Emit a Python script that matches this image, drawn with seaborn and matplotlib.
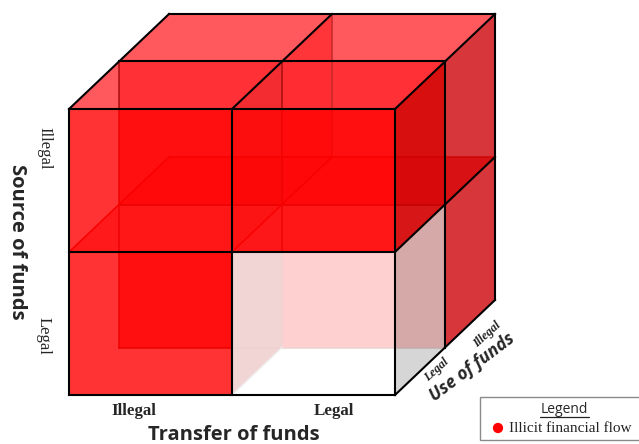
import matplotlib
matplotlib.use("Agg")
import matplotlib.pyplot as plt
from matplotlib.patches import Rectangle, FancyBboxPatch
import pandas as pd
import seaborn as sns

# Categories of the three cube axes
transfer_levels = ["Illegal", "Legal"]
source_levels = ["Legal", "Illegal"]
use_levels = ["Legal", "Illegal"]
axis_titles = ["Transfer of funds", "Source of funds", "Use of funds"]
legend_title = "Legend"
legend_items = ["Illicit financial flow"]

# Faces: axis held constant, its value, and the two index ranges of the other axes
# (x = transfer, y = source, z = use); back-to-front order
faces_back = [
    ("y", 2, (0, 2), (1, 2), (255, 0, 8), .65),      # lid, back half
    ("y", 2, (0, 2), (0, 1), (255, 0, 8), .65),      # lid, front half
    ("y", 1, (0, 2), (1, 2), (255, 40, 45), .88),    # middle floor, back half
    ("x", 1, (1, 2), (1, 2), (255, 0, 5), .40),      # partition, back upper
    ("z", 1, (0, 1), (0, 1), (255, 0, 0), .70),      # middle plane, lower left
    ("z", 1, (1, 2), (0, 1), (255, 0, 0), 1.0),      # middle plane, lower right
    ("x", 1, (0, 1), (0, 1), (180, 30, 30), 1.0),    # partition, front lower
    ("z", 1, (0, 2), (1, 2), (255, 43, 48), .85),    # middle plane, upper
    ("y", 1, (0, 2), (0, 1), (255, 120, 125), .95),  # middle floor, front half
    ("x", 1, (0, 1), (1, 2), (170, 20, 20), .14),    # partition, front upper
]
faint_lines = [
    ((0, 2, 1), (0, 0, 1), (165, 15, 15)),
    ((1, 2, 1), (1, 0, 1), (165, 15, 15)),
    ((1, 2, 2), (1, 1, 2), (200, 40, 40)),
    ((0, 1, 1), (2, 1, 1), (150, 0, 0)),
    ((0, 0, 1), (2, 0, 1), (160, 10, 10)),
    ((0, 1, 2), (2, 1, 2), (225, 0, 0)),
    ((0, 1, 0), (0, 1, 2), (225, 0, 0)),
    ((1, 1, 0), (1, 1, 2), (225, 0, 0)),
    ((1, 0, 0), (1, 0, 1), (170, 160, 160)),
]
faces_front = [
    ("x", 2, (1, 2), (0, 2), (205, 5, 8), .80),      # right wall, back
    ("x", 2, (0, 1), (1, 2), (205, 0, 0), .80),      # right wall, front upper
    ("x", 2, (0, 1), (0, 1), (206, 206, 206), .824), # right wall, front lower
    ("z", 0, (0, 1), (1, 2), (255, 0, 0), .80),
    ("z", 0, (1, 2), (1, 2), (255, 0, 0), .80),
    ("z", 0, (0, 1), (0, 1), (255, 0, 0), .80),
    ("z", 0, (1, 2), (0, 1), (255, 255, 255), .82),  # the one licit cell
]
black_lines = [
    ((0, 0, 0), (2, 0, 0)), ((0, 1, 0), (2, 1, 0)), ((0, 2, 0), (2, 2, 0)),
    ((0, 0, 0), (0, 2, 0)), ((1, 0, 0), (1, 2, 0)), ((2, 0, 0), (2, 2, 0)),
    ((0, 2, 1), (2, 2, 1)), ((0, 2, 2), (2, 2, 2)),
    ((0, 2, 0), (0, 2, 2)), ((1, 2, 0), (1, 2, 2)), ((2, 2, 0), (2, 2, 2)),
    ((2, 1, 0), (2, 1, 2)), ((2, 0, 0), (2, 0, 2)),
    ((2, 0, 1), (2, 2, 1)), ((2, 0, 2), (2, 2, 2)),
]

# Oblique projection of the unit grid onto the picture
ORIGIN = (69, 395)
UNIT_X, UNIT_Y = 163, 143
DEPTH_X, DEPTH_Y = 50, 47.5


def proj(x, y, z):
    return ORIGIN[0] + UNIT_X * x + DEPTH_X * z, ORIGIN[1] - UNIT_Y * y - DEPTH_Y * z


def corners(axis, value, r1, r2):
    a0, a1 = r1
    b0, b1 = r2
    if axis == "x":   # r1 = z, r2 = y
        pts = [(value, b0, a0), (value, b0, a1), (value, b1, a1), (value, b1, a0)]
    elif axis == "y": # r1 = x, r2 = z
        pts = [(a0, value, b0), (a1, value, b0), (a1, value, b1), (a0, value, b1)]
    else:             # r1 = x, r2 = y
        pts = [(a0, b0, value), (a1, b0, value), (a1, b1, value), (a0, b1, value)]
    return [proj(*p) for p in pts]


def rgb(c):
    return tuple(v / 255 for v in c)


sns.set_style("white")
fig, ax = plt.subplots(figsize=(6.39, 4.44), dpi=100)
ax.set_position([0, 0, 1, 1])
ax.set_xlim(0, 639)
ax.set_ylim(444, 0)
ax.axis("off")
order = [10]


def next_z():
    order[0] += 1
    return order[0]


def draw_faces(faces):
    for axis, value, r1, r2, col, alpha in faces:
        xs, ys = zip(*corners(axis, value, r1, r2))
        ax.fill(xs, ys, color=rgb(col), alpha=alpha, lw=0, zorder=next_z())


def draw_segment(a, b, color, lw):
    pa, pb = proj(*a), proj(*b)
    df = pd.DataFrame({"x": [pa[0], pb[0]], "y": [pa[1], pb[1]]})
    sns.lineplot(data=df, x="x", y="y", estimator=None, sort=False, color=color,
                 lw=lw, ax=ax, legend=False, zorder=next_z(), solid_capstyle="projecting")


draw_faces(faces_back)
for a, b, col in faint_lines:
    draw_segment(a, b, rgb(col), 1.1)
draw_faces(faces_front)
for a, b in black_lines:
    draw_segment(a, b, "black", 1.5)

SERIF = "Liberation Serif"
SANS = "Open Sans"
z = next_z()
ax.text(134, 411, transfer_levels[0], family=SERIF, weight="bold", fontsize=12.2,
        ha="center", va="center", zorder=z)
ax.text(334, 411, transfer_levels[1], family=SERIF, weight="bold", fontsize=12.2,
        ha="center", va="center", zorder=z)
ax.text(44, 336, source_levels[0], family=SERIF, fontsize=12, rotation=-90, ha="center", va="center", zorder=z)
ax.text(44, 148, source_levels[1], family=SERIF, fontsize=12, rotation=-90, ha="center", va="center", zorder=z)
ax.text(437, 370, use_levels[0], family=SERIF, style="italic", weight="bold", fontsize=8.8, rotation=42,
        ha="center", va="center", rotation_mode="anchor", zorder=z, color="#222222")
ax.text(487, 335, use_levels[1], family=SERIF, style="italic", weight="bold", fontsize=8.8, rotation=42,
        ha="center", va="center", rotation_mode="anchor", zorder=z, color="#222222")
ax.text(234, 434.5, axis_titles[0], family=SANS, weight="bold", fontsize=14.5, ha="center", va="center", zorder=z)
ax.text(17, 242, axis_titles[1], family=SANS, weight="bold", fontsize=14.5, rotation=-90,
        ha="center", va="center", zorder=z)
ax.text(472, 367, axis_titles[2], family=SANS, weight="bold", style="italic", fontsize=12.5, rotation=37,
        ha="center", va="center", rotation_mode="anchor", zorder=z)

# Legend box
ax.add_patch(Rectangle((480, 397), 162, 43, fc="white", ec="#8a8a8a", lw=1, zorder=z))
ax.text(564, 409, legend_title, family=SANS, fontsize=10, ha="center", va="center", zorder=z + 1)
ax.plot([540, 589], [416.5, 416.5], color="#222222", lw=.9, zorder=z + 1)
sns.scatterplot(x=[498], y=[428], marker="o", s=55, color="#ff0000", edgecolor="none", ax=ax,
                legend=False, zorder=z + 1)
ax.text(509, 428, legend_items[0], family=SERIF, fontsize=11, ha="left", va="center", color="#222222", zorder=z + 1)
ax.set_xlim(0, 639)
ax.set_ylim(444, 0)
ax.set_xlabel("")
ax.set_ylabel("")
fig.savefig("out.png", dpi=100)
